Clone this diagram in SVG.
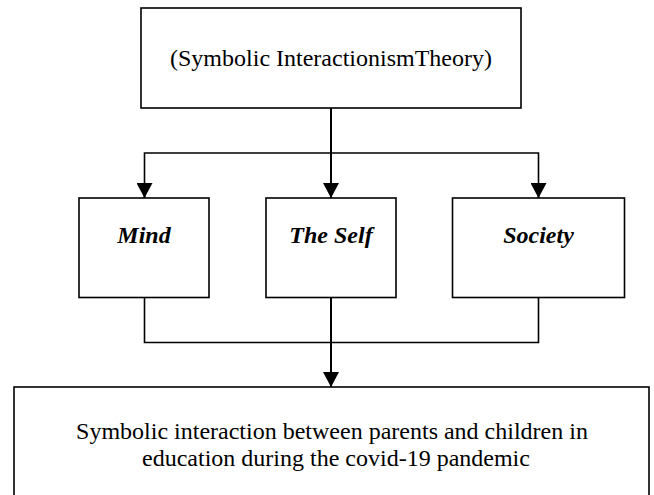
<svg xmlns="http://www.w3.org/2000/svg" width="654" height="495" viewBox="0 0 654 495">
<style>
.box{fill:#fff;stroke:#000;stroke-width:1.6}
.t{font-family:"Liberation Serif","Times New Roman",serif;font-size:24px;fill:#000;text-anchor:middle}
.bi{font-weight:bold;font-style:italic}
.c{fill:none;stroke:#000;stroke-width:1.6}
.ca{fill:none;stroke:#000;stroke-width:2}
</style>
<defs>
<marker id="ah" markerUnits="userSpaceOnUse" viewBox="0 0 15 16" refX="15" refY="8" markerWidth="15" markerHeight="16" orient="auto">
<path d="M0,0 L15,8 L0,16 z" fill="#000"/>
</marker>
</defs>
<rect x="0" y="0" width="654" height="495" fill="#fff"/>
<g id="connectors">
<line class="ca" x1="331" y1="108" x2="331" y2="198" marker-end="url(#ah)"/>
<polyline class="c" points="144.5,198 144.5,153 538.5,153 538.5,198"/>
<line class="c" x1="144.5" y1="184" x2="144.5" y2="198" marker-end="url(#ah)"/>
<line class="c" x1="538.5" y1="184" x2="538.5" y2="198" marker-end="url(#ah)"/>
<polyline class="c" points="144.5,298 144.5,342.5 538.5,342.5 538.5,298"/>
<line class="ca" x1="331" y1="298" x2="331" y2="387" marker-end="url(#ah)"/>
</g>
<g id="theory">
<rect class="box" x="141" y="8" width="380" height="100"/>
<text class="t" x="331" y="66">(Symbolic InteractionismTheory)</text>
</g>
<g id="mind">
<rect class="box" x="79" y="198" width="130" height="99.5"/>
<text class="t bi" x="144" y="242.5">Mind</text>
</g>
<g id="self">
<rect class="box" x="266" y="198" width="130" height="99.5"/>
<text class="t bi" x="331" y="242.5">The Self</text>
</g>
<g id="society">
<rect class="box" x="452.5" y="198" width="172" height="99.5"/>
<text class="t bi" x="538.5" y="242.5">Society</text>
</g>
<g id="outcome">
<rect class="box" x="14" y="387" width="635" height="130"/>
<text class="t" x="332" y="438.5">Symbolic interaction between parents and children in</text>
<text class="t" x="336" y="466">education during the covid-19 pandemic</text>
</g>
</svg>
